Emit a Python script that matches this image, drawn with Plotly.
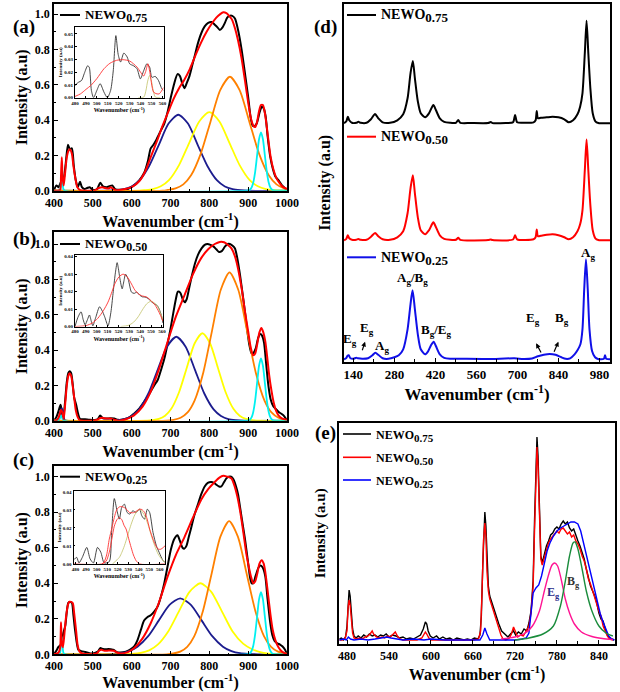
import plotly.graph_objects as go

# ------------------------------------------------------------------ data
# Panel (a) NEWO0.75 : measured spectrum, cumulative fit and fitted components
A_BLACK = [(400, 0.0), (406, 0.03), (412, 0.02), (418, 0.05), (424, 0.06), (430, 0.15), (436, 0.26), (441, 0.235),
           (446, 0.24), (451, 0.14), (456, 0.06), (461, 0.02), (467, 0.05), (472, 0.02), (478, 0.01), (485, 0.015),
           (492, 0.02), (500, 0.005), (511, 0.01), (519, 0.045), (526, 0.025), (535, 0.02), (543, 0.025), (550, 0.03),
           (558, 0.008), (575, 0.005), (590, 0.01), (606, 0.03), (620, 0.06), (632, 0.10), (642, 0.17), (649, 0.24),
           (656, 0.26), (664, 0.29), (675, 0.34), (684, 0.38), (693, 0.45), (701, 0.53), (710, 0.61), (718, 0.66),
           (724, 0.65), (730, 0.61), (736, 0.58), (742, 0.61), (749, 0.65), (756, 0.71), (762, 0.76), (770, 0.83),
           (779, 0.89), (788, 0.93), (797, 0.95), (806, 0.955), (814, 0.94), (821, 0.925), (827, 0.91), (834, 0.925),
           (840, 0.95), (846, 0.98), (852, 0.99), (859, 0.99), (866, 0.975), (874, 0.91), (883, 0.80), (892, 0.66),
           (900, 0.53), (906, 0.42), (911, 0.37), (916, 0.365), (922, 0.38), (929, 0.44), (935, 0.475), (940, 0.465),
           (945, 0.42), (950, 0.31), (957, 0.19), (964, 0.12), (970, 0.08), (978, 0.06), (987, 0.03), (994, 0.015),
           (1000, 0.0)]
A_RED = [(400, 0.0), (410, 0.0), (416, 0.005), (418, 0.08), (420, 0.19), (422, 0.08), (425, 0.03), (429, 0.11),
         (433, 0.19), (437, 0.225), (441, 0.235), (446, 0.21), (450, 0.14), (455, 0.07), (460, 0.02), (466, 0.005),
         (480, 0.0), (505, 0.002), (515, 0.015), (524, 0.02), (532, 0.015), (540, 0.012), (546, 0.02), (551, 0.012),
         (560, 0.003), (580, 0.008), (600, 0.02), (620, 0.055), (635, 0.11), (649, 0.19), (665, 0.28), (680, 0.37),
         (693, 0.44), (708, 0.52), (722, 0.58), (736, 0.63), (750, 0.69), (765, 0.77), (779, 0.84), (793, 0.90),
         (806, 0.945), (818, 0.98), (828, 1.0), (836, 1.01), (844, 1.005), (851, 0.99), (858, 0.97), (866, 0.92),
         (874, 0.85), (883, 0.75), (892, 0.62), (900, 0.50), (907, 0.41), (913, 0.37), (918, 0.36), (923, 0.39),
         (928, 0.45), (933, 0.485), (938, 0.485), (943, 0.44), (948, 0.36), (953, 0.27), (958, 0.19), (965, 0.12),
         (973, 0.07), (982, 0.04), (990, 0.02), (1000, 0.01)]
A_NAVY = [(400, 0), (540, 0), (560, 0.003), (580, 0.009), (600, 0.024), (620, 0.058), (645, 0.14), (670, 0.26),
          (695, 0.38), (720, 0.43), (745, 0.38), (770, 0.26), (795, 0.14), (820, 0.058), (840, 0.024), (860, 0.009),
          (880, 0.003), (900, 0), (1000, 0)]
A_YELLOW = [(400, 0), (620, 0), (634, 0.003), (654, 0.009), (675, 0.025), (696, 0.06), (722, 0.145), (748, 0.27),
            (774, 0.392), (800, 0.445), (826, 0.392), (852, 0.27), (878, 0.145), (904, 0.06), (925, 0.025),
            (946, 0.009), (966, 0.003), (990, 0), (1000, 0)]
A_ORANGE = [(400, 0), (680, 0), (693, 0.004), (713, 0.013), (733, 0.036), (753, 0.087), (778, 0.21), (803, 0.391),
            (828, 0.569), (853, 0.645), (878, 0.569), (903, 0.391), (928, 0.21), (953, 0.087), (973, 0.036),
            (993, 0.013), (1000, 0.009)]
A_CYAN = [(400, 0), (412, 0), (416, 0.01), (418, 0.06), (420, 0.1), (422, 0.06), (424, 0.01), (428, 0), (895, 0),
          (900, 0.0014), (905, 0.0065), (909, 0.0185), (913, 0.0447), (918, 0.107), (923, 0.2), (928, 0.291),
          (933, 0.33), (938, 0.291), (943, 0.2), (948, 0.107), (953, 0.0447), (957, 0.0185), (961, 0.0065),
          (966, 0.0014), (975, 0), (1000, 0)]
A_IN_BLACK = [(480, 0.0096), (483, 0.012), (486, 0.0135), (488.5, 0.019), (491.5, 0.025), (493, 0.024), (495, 0.0057),
              (497, 0.0), (500, 0.0057), (503, 0.011), (506.5, 0.0044), (509.6, 0.0), (512.6, 0.0057), (515, 0.021),
              (517.4, 0.0487), (519.5, 0.034), (521.7, 0.028), (524.7, 0.035), (527.7, 0.032), (530, 0.0266),
              (533.7, 0.025), (536.8, 0.0227), (539.8, 0.0148), (542.8, 0.021), (545.8, 0.0266), (548.3, 0.024),
              (550.4, 0.016), (553.4, 0.0167), (556.4, 0.0135), (559.5, 0.007), (561, 0.0057)]
A_IN_RED = [(480, 0.001), (485, 0.003), (490, 0.0065), (494.5, 0.0096), (500, 0.015), (506.5, 0.0227), (512, 0.027),
            (518, 0.0293), (524, 0.0298), (530, 0.0288), (536.8, 0.024), (540, 0.02), (542.8, 0.017), (544.5, 0.02),
            (546.7, 0.0266), (548.5, 0.02), (551.9, 0.0044), (555, 0.003), (557, 0.003), (559, 0.005), (561, 0.008)]
A_IN_YELLOW = [(538, 0.0), (543, 0.0005), (545, 0.006), (546.5, 0.013), (548.3, 0.0174), (550, 0.013), (551.5, 0.006),
               (553.5, 0.0005), (558, 0.0)]

# Panel (b) NEWO0.50
B_BLACK = [(400, 0), (406, 0.02), (411, 0.05), (417, 0.09), (421, 0.04), (424, 0.02), (429, 0.12), (433, 0.22),
           (437, 0.27), (440, 0.28), (444, 0.27), (448, 0.21), (452, 0.13), (457, 0.09), (462, 0.04), (467, 0.01),
           (480, 0.008), (492, 0.005), (505, 0.004), (513, 0.01), (519, 0.03), (525, 0.015), (535, 0.012),
           (545, 0.014), (555, 0.012), (565, 0.005), (580, 0.008), (595, 0.02), (606, 0.04), (620, 0.07), (633, 0.11),
           (645, 0.15), (658, 0.2), (667, 0.23), (676, 0.29), (684, 0.35), (692, 0.43), (700, 0.52), (708, 0.62),
           (714, 0.69), (719, 0.73), (725, 0.725), (731, 0.69), (737, 0.67), (742, 0.69), (748, 0.75), (755, 0.82),
           (763, 0.89), (771, 0.94), (780, 0.975), (788, 0.995), (795, 1.0), (803, 0.995), (811, 0.985), (818, 0.97),
           (825, 0.955), (832, 0.96), (840, 0.985), (847, 1.0), (853, 1.0), (860, 0.99), (866, 0.975), (872, 0.92),
           (879, 0.825), (888, 0.68), (896, 0.54), (903, 0.43), (909, 0.38), (914, 0.385), (919.5, 0.41), (926, 0.47),
           (931, 0.49), (936, 0.48), (941, 0.44), (946, 0.33), (952, 0.2), (958, 0.12), (965, 0.08), (972, 0.065),
           (978, 0.05), (985, 0.04), (991, 0.03), (996, 0.015), (1000, 0)]
B_RED = [(400, 0), (408, 0.005), (413, 0.025), (418, 0.06), (421, 0.05), (425, 0.01), (429, 0.1), (433, 0.2),
         (437, 0.255), (440, 0.268), (444, 0.255), (448, 0.2), (452, 0.13), (456, 0.06), (461, 0.02), (466, 0.003),
         (490, 0.0), (510, 0.004), (518, 0.014), (524, 0.017), (530, 0.014), (537, 0.012), (546, 0.012), (554, 0.006),
         (565, 0.0), (585, 0.008), (606, 0.03), (628, 0.08), (649, 0.165), (670, 0.29), (693, 0.45), (714, 0.59),
         (736, 0.71), (758, 0.83), (779, 0.92), (797, 0.97), (814, 1.0), (827, 1.012), (838, 1.01), (848, 0.995),
         (857, 0.975), (866, 0.93), (874, 0.86), (883, 0.75), (891, 0.63), (900, 0.505), (907, 0.41), (913, 0.37),
         (918, 0.38), (923, 0.43), (929, 0.5), (934, 0.525), (939, 0.5), (944, 0.45), (949, 0.36), (954, 0.26),
         (960, 0.17), (966, 0.1), (972, 0.055), (978, 0.03), (988, 0.012), (1000, 0.005)]
B_NAVY = [(400, 0), (410, 0), (413, 0.005), (416, 0.045), (420, 0.07), (424, 0.045), (427, 0.005), (432, 0), (545, 0),
          (561, 0.003), (581, 0.009), (600, 0.027), (619, 0.064), (643, 0.154), (667, 0.288), (691, 0.419),
          (715, 0.475), (739, 0.419), (763, 0.288), (787, 0.154), (811, 0.064), (830, 0.027), (849, 0.009),
          (869, 0.003), (890, 0), (1000, 0)]
B_YELLOW = [(400, 0), (640, 0), (654, 0.003), (670, 0.01), (686, 0.028), (702, 0.067), (722, 0.161), (742, 0.30),
            (762, 0.437), (782, 0.495), (802, 0.437), (822, 0.30), (842, 0.161), (862, 0.067), (878, 0.028),
            (894, 0.01), (910, 0.003), (930, 0), (1000, 0)]
B_ORANGE = [(400, 0), (690, 0), (708, 0.005), (726, 0.017), (744, 0.047), (762, 0.114), (784.5, 0.273), (807, 0.51),
            (829.5, 0.741), (852, 0.84), (874.5, 0.741), (897, 0.51), (919.5, 0.273), (942, 0.114), (960, 0.047),
            (978, 0.017), (996, 0.005), (1000, 0.004)]
B_CYAN = [(400, 0), (410, 0), (414, 0.01), (418, 0.03), (422, 0.01), (426, 0), (895, 0), (900, 0.0015), (905, 0.007),
          (909, 0.02), (913, 0.048), (918, 0.115), (923, 0.214), (928, 0.311), (933, 0.353), (938, 0.311),
          (943, 0.214), (948, 0.115), (953, 0.048), (957, 0.02), (961, 0.007), (966, 0.0015), (975, 0), (1000, 0)]
B_IN_BLACK = [(480, 0.0), (482.5, 0.005), (485.6, 0.0084), (487.5, 0.004), (489.3, 0.001), (491.5, 0.004),
              (493.3, 0.0066), (495, 0.003), (496.4, 0.0004), (499, 0.005), (502.6, 0.0113), (505, 0.009),
              (507.3, 0.0056), (510.4, 0.0004), (513, 0.008), (515, 0.0188), (517, 0.03), (518.8, 0.0366),
              (520, 0.033), (521.2, 0.028), (523.4, 0.0216), (525, 0.026), (526.5, 0.03), (529, 0.027), (532, 0.0197),
              (534.5, 0.019), (536.8, 0.0197), (539.9, 0.0178), (542, 0.017), (544.5, 0.0169), (547.5, 0.016),
              (550.7, 0.014), (553, 0.013), (555.4, 0.0122), (557.5, 0.01), (559.4, 0.0066), (561, 0.002)]
B_IN_RED = [(480, 0.0), (490, 0.0005), (496, 0.002), (501, 0.0047), (506, 0.009), (510.4, 0.014), (513.5, 0.019),
            (516.6, 0.0244), (520.5, 0.0285), (524.3, 0.030), (528, 0.0285), (532, 0.0244), (535, 0.021),
            (538.2, 0.0188), (542, 0.0175), (546, 0.0169), (550, 0.0148), (553.8, 0.0122), (557.5, 0.008),
            (561, 0.003)]
B_IN_YELLOW = [(522, 0.0), (529, 0.0006), (534, 0.0025), (538.2, 0.0056), (542, 0.0095), (546, 0.013), (550, 0.0145),
               (553, 0.0135), (555.4, 0.0122), (558.5, 0.008), (561, 0.004)]

# Panel (c) NEWO0.25
C_BLACK = [(400, 0), (406, 0.02), (411, 0.04), (416, 0.05), (420, 0.07), (424, 0.12), (429, 0.16), (433, 0.24),
           (437, 0.29), (441, 0.295), (446, 0.29), (450, 0.22), (454, 0.14), (459, 0.06), (463, 0.025), (470, 0.018),
           (476, 0.015), (485, 0.01), (494, 0.005), (505, 0.008), (513, 0.015), (519, 0.035), (526, 0.03),
           (533, 0.028), (540, 0.03), (547, 0.028), (554, 0.025), (562, 0.012), (571, 0.01), (585, 0.015),
           (595, 0.025), (606, 0.043), (615, 0.08), (624, 0.14), (632, 0.19), (641, 0.21), (649, 0.22), (658, 0.24),
           (667, 0.27), (676, 0.33), (684, 0.40), (692, 0.49), (701, 0.59), (710, 0.65), (718, 0.67), (724, 0.64),
           (731, 0.6), (736, 0.595), (741, 0.61), (747, 0.66), (753, 0.71), (761, 0.78), (770, 0.84), (779, 0.9),
           (788, 0.945), (796, 0.965), (805, 0.97), (812, 0.965), (818, 0.955), (825, 0.945), (831, 0.945),
           (838, 0.97), (844, 0.99), (850, 1.0), (856, 1.0), (862, 0.985), (868, 0.95), (874, 0.9), (879, 0.83),
           (886, 0.73), (892, 0.645), (899, 0.53), (905, 0.43), (909, 0.4), (913, 0.4), (919, 0.44), (926, 0.485),
           (931, 0.5), (937, 0.49), (944, 0.44), (950, 0.31), (957, 0.175), (962, 0.11), (968, 0.075), (975, 0.062),
           (982, 0.055), (988, 0.045), (995, 0.025), (1000, 0)]
C_RED = [(400, 0), (412, 0.01), (416, 0.04), (418, 0.18), (420, 0.07), (423, 0.04), (427, 0.12), (431, 0.21),
         (436, 0.28), (440, 0.296), (444, 0.295), (448.5, 0.287), (452, 0.23), (457, 0.13), (461, 0.05), (466, 0.015),
         (475, 0.003), (490, 0.0), (510, 0.005), (516, 0.02), (522, 0.025), (530, 0.02), (537, 0.02), (545, 0.022),
         (554, 0.02), (562, 0.01), (571, 0.005), (590, 0.012), (606, 0.034), (628, 0.09), (649, 0.175), (670, 0.29),
         (693, 0.44), (714, 0.56), (736, 0.66), (758, 0.77), (779, 0.87), (797, 0.93), (814, 0.97), (826, 0.995),
         (836, 1.005), (846, 1.0), (857, 0.99), (866, 0.94), (872, 0.89), (879, 0.81), (888, 0.68), (895, 0.57),
         (900, 0.51), (907, 0.44), (913, 0.40), (918, 0.41), (923, 0.45), (929, 0.51), (935, 0.53), (940, 0.51),
         (944, 0.465), (950, 0.36), (957, 0.23), (963, 0.14), (970, 0.08), (978, 0.04), (987, 0.015), (1000, 0)]
C_NAVY = [(400, 0), (530, 0), (549, 0.002), (571, 0.006), (593, 0.018), (615, 0.043), (642.5, 0.102), (670, 0.191),
          (697.5, 0.278), (725, 0.315), (752.5, 0.278), (780, 0.191), (807.5, 0.102), (835, 0.043), (857, 0.018),
          (879, 0.006), (901, 0.002), (925, 0), (1000, 0)]
C_YELLOW = [(400, 0), (582, 0), (601, 0.002), (623, 0.008), (645, 0.022), (667, 0.054), (694.5, 0.13), (722, 0.243),
            (749.5, 0.353), (777, 0.40), (804.5, 0.353), (832, 0.243), (859.5, 0.13), (887, 0.06), (909, 0.03),
            (931, 0.012), (953, 0.004), (975, 0), (1000, 0)]
C_ORANGE = [(400, 0), (690, 0), (707, 0.0045), (725, 0.015), (743, 0.042), (761, 0.101), (783.5, 0.244), (806, 0.455),
            (828.5, 0.662), (851, 0.75), (873.5, 0.662), (896, 0.455), (918.5, 0.244), (941, 0.101), (959, 0.042),
            (977, 0.015), (995, 0.0045), (1000, 0.003)]
C_CYAN = [(400, 0), (412, 0), (416, 0.01), (418, 0.06), (420, 0.1), (422, 0.06), (424, 0.01), (428, 0), (895, 0),
          (900, 0.0015), (905, 0.007), (909, 0.02), (913, 0.047), (918, 0.114), (923, 0.212), (928, 0.309),
          (933, 0.35), (938, 0.309), (943, 0.212), (948, 0.114), (953, 0.047), (957, 0.02), (961, 0.007),
          (966, 0.0015), (975, 0), (1000, 0)]
C_IN_BLACK = [(478.4, 0.0024), (481, 0.0037), (483.2, 0.0006), (486.4, 0.0037), (490.6, 0.0092), (493.8, 0.0028),
              (497, 0.0006), (500.8, 0.0092), (504, 0.0065), (507.2, 0.0006), (512, 0.0013), (514.2, 0.0175),
              (516.8, 0.0363), (519.4, 0.0295), (521.6, 0.0249), (523.8, 0.0313), (526.4, 0.0332), (529, 0.0286),
              (531.5, 0.0277), (534.4, 0.0295), (537.6, 0.0286), (540.8, 0.0304), (543, 0.0267), (545.6, 0.0249),
              (548.2, 0.0304), (550.4, 0.0286), (553.6, 0.0175), (556.8, 0.0101), (559.4, 0.0065), (563.2, 0.0018),
              (565, 0.001)]
C_IN_RED = [(478, 0.0), (505, 0.0), (507, 0.001), (509.5, 0.005), (512, 0.0138), (514.5, 0.02), (516.8, 0.0258),
            (519, 0.03), (521.6, 0.0317), (524, 0.0318), (526.4, 0.0313), (529, 0.03), (531.2, 0.0286), (534, 0.0284),
            (536, 0.0286), (538.5, 0.0296), (540.8, 0.0304), (543, 0.0302), (545.6, 0.0286), (548, 0.025),
            (550.4, 0.0194), (553.6, 0.0138), (556, 0.0105), (558.4, 0.0083), (561, 0.0082), (563, 0.009),
            (565, 0.0101)]
C_IN_REDCOMP = [(505, 0.0), (509, 0.0015), (512, 0.0065), (514.5, 0.014), (516.8, 0.021), (519.2, 0.0245),
                (521.6, 0.0258), (524, 0.0245), (526, 0.0215), (528, 0.0194), (530.5, 0.014), (532.8, 0.0092),
                (535, 0.005), (537.6, 0.0018), (541, 0.0), (565, 0.0)]
C_IN_YELLOW = [(515, 0.0), (521.6, 0.0037), (524, 0.0065), (526.4, 0.0101), (529.5, 0.0158), (532.8, 0.022),
               (536.5, 0.0275), (540.8, 0.0304), (545, 0.0275), (548.8, 0.022), (552, 0.0158), (555.2, 0.0101),
               (558.5, 0.0055), (561.6, 0.0028), (565, 0.001)]

# Panel (d) full-range spectra (normalised; stacked with offsets)
D_OFFSETS = {"0.75": 2.36, "0.50": 1.19, "0.25": 0.0}
D_075 = [(108, 0.0), (116, 0.02), (121, 0.066), (126, 0.03), (135, 0.005), (150, 0.005), (157, 0.015), (165, 0.005),
         (185, 0.005), (200, 0.04), (214, 0.093), (225, 0.05), (240, 0.01), (265, 0.005), (290, 0.03), (310, 0.09),
         (325, 0.25), (335, 0.5), (343, 0.623), (350, 0.45), (360, 0.22), (370, 0.1), (385, 0.06), (398, 0.1),
         (413, 0.183), (422, 0.13), (435, 0.05), (450, 0.015), (470, 0.005), (490, 0.005), (498, 0.033), (505, 0.005),
         (540, 0.003), (600, 0.003), (609, 0.012), (615, 0.002), (660, 0.003), (685, 0.01), (692, 0.083), (699, 0.01),
         (720, 0.005), (755, 0.01), (762, 0.03), (766, 0.123), (770, 0.05), (780, 0.055), (800, 0.06), (820, 0.065),
         (840, 0.06), (860, 0.04), (875, 0.01), (890, 0.03), (905, 0.09), (914, 0.166), (922, 0.3), (930, 0.7),
         (936, 1.026), (942, 0.7), (949, 0.35), (957, 0.1), (966, 0.02), (976, 0.003), (1016, 0)]
D_050 = [(108, 0.0), (116, 0.015), (121, 0.05), (126, 0.02), (135, 0.005), (150, 0.005), (157, 0.012), (165, 0.005),
         (185, 0.005), (200, 0.035), (214, 0.074), (225, 0.04), (240, 0.01), (265, 0.005), (290, 0.03), (310, 0.09),
         (325, 0.27), (335, 0.52), (343, 0.65), (350, 0.47), (360, 0.23), (370, 0.1), (385, 0.06), (398, 0.1),
         (413, 0.18), (422, 0.13), (435, 0.05), (450, 0.015), (470, 0.005), (490, 0.005), (498, 0.025), (505, 0.005),
         (600, 0.003), (609, 0.008), (615, 0.002), (685, 0.008), (692, 0.05), (699, 0.01), (755, 0.01), (762, 0.03),
         (766, 0.107), (770, 0.04), (780, 0.045), (800, 0.055), (820, 0.06), (840, 0.05), (860, 0.03), (875, 0.01),
         (890, 0.03), (905, 0.09), (914, 0.16), (922, 0.3), (930, 0.7), (936, 1.007), (942, 0.7), (949, 0.35),
         (957, 0.1), (966, 0.02), (976, 0.003), (1016, 0)]
D_025 = [(108, 0.0), (115, 0.01), (120, 0.035), (124, 0.04), (130, 0.01), (140, 0.005), (150, 0.015), (156, 0.01),
         (170, 0.005), (190, 0.01), (205, 0.04), (215, 0.066), (225, 0.045), (240, 0.01), (260, 0.005), (280, 0.02),
         (295, 0.04), (310, 0.1), (325, 0.3), (335, 0.55), (342, 0.69), (350, 0.5), (360, 0.25), (370, 0.1),
         (385, 0.05), (395, 0.08), (405, 0.14), (414, 0.176), (422, 0.13), (435, 0.05), (450, 0.015), (470, 0.005),
         (500, 0.005), (600, 0.003), (690, 0.01), (720, 0.003), (750, 0.008), (770, 0.03), (790, 0.045),
         (810, 0.053), (830, 0.045), (850, 0.02), (865, 0.005), (880, 0.01), (895, 0.05), (905, 0.09), (915, 0.15),
         (922, 0.3), (928, 0.7), (934, 1.0), (940, 0.7), (946, 0.3), (955, 0.08), (965, 0.02), (975, 0.003),
         (995, 0.005), (999, 0.04), (1003, 0.005), (1016, 0)]

# Panel (e) zoomed spectra 470-860 cm-1 with Eg / Bg components
E_075 = [(469, 0.02), (472, 0.03), (475, 0.01), (478, 0.04), (480, 0.15), (481.5, 0.42), (483, 0.51), (484.5, 0.45),
         (486, 0.3), (488, 0.12), (490, 0.05), (493, 0.03), (496, 0.05), (500, 0.03), (504, 0.06), (508, 0.04),
         (512, 0.07), (516, 0.05), (520, 0.06), (524, 0.04), (528, 0.06), (532, 0.05), (536, 0.07), (540, 0.04),
         (545, 0.06), (550, 0.05), (555, 0.03), (560, 0.04), (565, 0.02), (570, 0.03), (575, 0.02), (580, 0.04),
         (585, 0.06), (589, 0.12), (592, 0.19), (594, 0.17), (596, 0.1), (599, 0.05), (603, 0.03), (608, 0.05),
         (612, 0.02), (617, 0.04), (622, 0.02), (627, 0.03), (632, 0.01), (637, 0.03), (642, 0.02), (647, 0.01),
         (652, 0.02), (657, 0.01), (662, 0.03), (667, 0.02), (670, 0.06), (672, 0.25), (674, 0.75), (676, 1.2),
         (677, 1.29), (678.5, 1.15), (680, 0.8), (682, 0.55), (684, 0.45), (687, 0.38), (690, 0.32), (693, 0.25),
         (697, 0.17), (701, 0.1), (705, 0.07), (710, 0.04), (715, 0.08), (718, 0.1), (721, 0.06), (725, 0.09),
         (729, 0.07), (733, 0.12), (737, 0.1), (740, 0.18), (743, 0.3), (746, 0.6), (748, 1.2), (750, 1.85),
         (751.5, 2.04), (753, 1.85), (755, 1.2), (757, 0.85), (759, 0.78), (762, 0.86), (765, 0.95), (768, 1.0),
         (771, 1.06), (774, 1.08), (777, 1.12), (780, 1.14), (783, 1.12), (786, 1.17), (789, 1.2), (792, 1.17),
         (795, 1.19), (798, 1.13), (801, 1.1), (804, 1.12), (807, 1.05), (810, 1.0), (813, 0.95), (816, 0.88),
         (819, 0.82), (822, 0.72), (825, 0.62), (828, 0.55), (831, 0.5), (834, 0.45), (837, 0.38), (840, 0.28),
         (843, 0.22), (846, 0.2), (849, 0.12), (852, 0.06), (855, 0.03), (858, 0.02), (862, 0.01)]
E_050 = [(469, 0.01), (473, 0.01), (477, 0.02), (480, 0.1), (481.5, 0.33), (483, 0.41), (484.5, 0.36), (486, 0.22),
         (488, 0.08), (490, 0.03), (494, 0.02), (498, 0.03), (502, 0.02), (506, 0.04), (510, 0.05), (513, 0.07),
         (516, 0.1), (518, 0.07), (522, 0.04), (526, 0.03), (530, 0.04), (534, 0.03), (538, 0.05), (542, 0.04),
         (546, 0.07), (549, 0.09), (552, 0.05), (556, 0.02), (560, 0.01), (570, 0.01), (580, 0.01), (587, 0.03),
         (590, 0.07), (592, 0.09), (594, 0.07), (597, 0.03), (600, 0.01), (660, 0.01), (668, 0.02), (671, 0.1),
         (673, 0.5), (675, 1.0), (677, 1.18), (678.5, 1.05), (680, 0.7), (682, 0.5), (684, 0.42), (687, 0.35),
         (690, 0.28), (693, 0.22), (697, 0.13), (700, 0.06), (703, 0.02), (707, 0.01), (712, 0.03), (715, 0.07),
         (718, 0.14), (721, 0.08), (724, 0.04), (728, 0.06), (732, 0.05), (736, 0.1), (740, 0.15), (743, 0.28),
         (746, 0.55), (748, 1.1), (750, 1.75), (751.5, 1.94), (753, 1.75), (755, 1.15), (757, 0.82), (759, 0.76),
         (762, 0.83), (765, 0.92), (768, 0.98), (771, 1.02), (774, 1.05), (777, 1.08), (780, 1.1), (783, 1.08),
         (786, 1.12), (789, 1.13), (792, 1.1), (795, 1.07), (798, 1.09), (801, 1.04), (804, 1.06), (807, 1.0),
         (810, 0.97), (813, 0.92), (816, 0.85), (819, 0.8), (822, 0.72), (825, 0.62), (828, 0.57), (831, 0.5),
         (834, 0.44), (837, 0.36), (840, 0.3), (843, 0.25), (846, 0.15), (849, 0.1), (852, 0.05), (855, 0.02),
         (860, 0.01)]
E_025 = [(469, 0.01), (475, 0.02), (479, 0.01), (482, 0.04), (485, 0.02), (490, 0.01), (500, 0.02), (510, 0.01),
         (520, 0.02), (530, 0.03), (537, 0.04), (543, 0.03), (550, 0.02), (560, 0.01), (575, 0.02), (590, 0.01),
         (600, 0.02), (620, 0.01), (640, 0.01), (660, 0.005), (670, 0.01), (674, 0.06), (677, 0.13), (680, 0.07),
         (684, 0.01), (700, 0.01), (720, 0.01), (730, 0.02), (736, 0.03), (740, 0.08), (743, 0.3), (746, 0.48),
         (750, 0.53), (754, 0.56), (758, 0.65), (762, 0.78), (766, 0.9), (770, 0.98), (775, 1.05), (780, 1.1),
         (785, 1.13), (790, 1.15), (795, 1.17), (800, 1.19), (805, 1.19), (810, 1.17), (814, 1.1), (818, 0.98),
         (822, 0.85), (826, 0.72), (830, 0.6), (834, 0.48), (838, 0.37), (842, 0.27), (846, 0.19), (850, 0.11),
         (854, 0.05), (858, 0.02), (862, 0.01)]
E_EG = [(700, 0.02), (720, 0.04), (735, 0.08), (745, 0.15), (755, 0.3), (762, 0.5), (768, 0.66), (773, 0.76),
        (777, 0.78), (781, 0.75), (786, 0.62), (792, 0.42), (798, 0.28), (805, 0.17), (815, 0.09), (830, 0.045),
        (845, 0.025), (860, 0.015)]
E_BG = [(720, 0.01), (740, 0.03), (760, 0.07), (775, 0.15), (785, 0.35), (792, 0.6), (798, 0.85), (803, 0.98),
        (806, 0.99), (810, 0.92), (816, 0.72), (822, 0.5), (830, 0.3), (840, 0.15), (850, 0.08), (860, 0.05)]

SAMPLES = ["0.75", "0.50", "0.25"]

# ------------------------------------------------------------------ styling
W, H = 620, 692
FONT = "Liberation Serif"
NAVY, YEL, ORA, CYA = "#1c1c8e", "#ffff00", "#ff8000", "#00f0f0"


def dx(a, b):
    return [a / W, b / W]


def dy(top, bottom):
    return [1 - bottom / H, 1 - top / H]


fig = go.Figure()


def add(data, color, width, ax, shape="spline", offset=0.0):
    xs = [p[0] for p in data]
    ys = [p[1] + offset for p in data]
    fig.add_trace(go.Scatter(
        x=xs, y=ys, mode="lines", xaxis="x" + ax, yaxis="y" + ax,
        line=dict(color=color, width=width, shape=shape, smoothing=0.7),
        showlegend=False, hoverinfo="skip"))


for ax, black, red, navy, yel, ora, cya in [
        ("", A_BLACK, A_RED, A_NAVY, A_YELLOW, A_ORANGE, A_CYAN),
        ("3", B_BLACK, B_RED, B_NAVY, B_YELLOW, B_ORANGE, B_CYAN),
        ("5", C_BLACK, C_RED, C_NAVY, C_YELLOW, C_ORANGE, C_CYAN)]:
    add(black, "black", 2.0, ax)
    add(navy, NAVY, 1.8, ax)
    add(yel, YEL, 1.8, ax)
    add(ora, ORA, 1.8, ax)
    add(cya, CYA, 1.8, ax)
    add(red, "#ff0000", 2.0, ax)

add(A_IN_BLACK, "#333333", 0.9, "2")
add(A_IN_YELLOW, "#c8c878", 0.9, "2")
add(A_IN_RED, "#ff3030", 0.9, "2")
add(B_IN_BLACK, "#333333", 0.9, "4")
add(B_IN_YELLOW, "#c8c878", 0.9, "4")
add(B_IN_RED, "#ff3030", 0.9, "4")
add(C_IN_BLACK, "#333333", 0.9, "6")
add(C_IN_YELLOW, "#c8c878", 0.9, "6")
add(C_IN_REDCOMP, "#ff3030", 0.9, "6")
add(C_IN_RED, "#ff3030", 0.9, "6")

add(D_075, "black", 2.0, "7", offset=D_OFFSETS["0.75"])
add(D_050, "#ff0000", 2.0, "7", offset=D_OFFSETS["0.50"])
add(D_025, "#1010e8", 2.0, "7", offset=D_OFFSETS["0.25"])

add(E_075, "black", 1.4, "8", shape="linear")
add(E_050, "#ff0000", 1.4, "8", shape="linear")
add(E_025, "#0000ff", 1.4, "8", shape="linear")
add(E_EG, "#ff1493", 1.4, "8")
add(E_BG, "#1a8c3c", 1.4, "8")


def tf(size):
    return dict(family=FONT, size=size, color="black", weight="bold")


def axis(dom, rng, **kw):
    d = dict(domain=dom, range=rng, showline=True, linecolor="black", linewidth=1.5, mirror=True,
             ticks="inside", ticklen=4, tickwidth=1.2, tickcolor="black", showgrid=False, zeroline=False,
             tickfont=tf(12), automargin=False)
    d.update(kw)
    return d


XT = "Wavenumber (cm<sup>-1</sup>)"
YT = "Intensity (a.u)"


def main_x(dom, anchor):
    return axis(dom, [400, 1000], anchor=anchor, tickmode="linear", tick0=400, dtick=100,
                minor=dict(ticks="inside", ticklen=2, dtick=50, tickcolor="black"),
                title=dict(text=XT, font=tf(16), standoff=0))


def main_y(dom, top, anchor):
    return axis(dom, [0, top], anchor=anchor, tickmode="linear", tick0=0, dtick=0.2, tickformat=".1f",
                minor=dict(ticks="inside", ticklen=2, dtick=0.1, tickcolor="black"),
                title=dict(text=YT, font=tf(16), standoff=3))


def inset_x(dom, rng, anchor):
    return axis(dom, rng, anchor=anchor, linewidth=0.8, ticklen=2, tickwidth=0.6, tickfont=tf(5),
                tickmode="linear", tick0=480, dtick=10, title=dict(text=XT, font=tf(6), standoff=0))


def inset_y(dom, top, anchor):
    return axis(dom, [0, top], anchor=anchor, linewidth=0.8, ticklen=2, tickwidth=0.6, tickfont=tf(5),
                tickmode="linear", tick0=0, dtick=0.01, tickformat=".2f",
                title=dict(text=YT, font=tf(5), standoff=1))


layout = dict(
    width=W, height=H, margin=dict(l=0, r=0, t=0, b=0, pad=0, autoexpand=False),
    paper_bgcolor="white", plot_bgcolor="white", showlegend=False,
    xaxis=main_x(dx(54, 287), "y"), yaxis=main_y(dy(4, 190.7), 1.057, "x"),
    xaxis2=inset_x(dx(75, 163.5), [480, 561], "y2"), yaxis2=inset_y(dy(26.7, 97.7), 0.0557, "x2"),
    xaxis3=main_x(dx(54, 287), "y3"), yaxis3=main_y(dy(232, 420.7), 1.068, "x3"),
    xaxis4=inset_x(dx(75, 163), [480, 561], "y4"), yaxis4=inset_y(dy(255, 326.5), 0.041, "x4"),
    xaxis5=main_x(dx(54, 287), "y5"), yaxis5=main_y(dy(466, 654.3), 1.06, "x5"),
    xaxis6=inset_x(dx(73.5, 165), [478, 565], "y6"), yaxis6=inset_y(dy(491, 564), 0.0405, "x6"),
    xaxis7=axis(dx(344, 610), [108, 1016], anchor="y7", tickmode="linear", tick0=0, dtick=140,
                minor=dict(ticks="inside", ticklen=3, dtick=70, tickcolor="black"), tickfont=tf(13),
                title=dict(text=XT, font=tf(17), standoff=2)),
    yaxis7=axis(dy(4, 361.7), [-0.024, 3.553], anchor="x7", showticklabels=False, ticks="",
                title=dict(text=YT, font=tf(16), standoff=8)),
    xaxis8=axis(dx(339.3, 615), [469, 863], anchor="y8", tickmode="linear", tick0=0, dtick=60,
                minor=dict(ticks="inside", ticklen=3, dtick=30, tickcolor="black"), tickfont=tf(12),
                title=dict(text=XT, font=tf(16), standoff=2)),
    yaxis8=axis(dy(422.7, 644), [-0.03, 2.183], anchor="x8", showticklabels=False, ticks="",
                title=dict(text=YT, font=tf(15), standoff=8)),
)
fig.update_layout(**layout)


def sub_label(s, size):
    return "NEWO<sub><span style=\"font-size:%dpx\">%s</span></sub>" % (size, s)


ann = []
shapes = []


def legend_item(x0, x1, y, color, text, size, width=2.0):
    shapes.append(dict(type="line", xref="paper", yref="paper", x0=x0 / W, x1=x1 / W, y0=1 - y / H, y1=1 - y / H,
                       line=dict(color=color, width=width)))
    ann.append(dict(xref="paper", yref="paper", x=(x1 + 3) / W, y=1 - (y + 1.5) / H, xanchor="left",
                    yanchor="middle", showarrow=False, text=text, font=tf(size)))


legend_item(60, 80, 15, "black", sub_label(SAMPLES[0], 12), 13)
legend_item(60, 80, 244, "black", sub_label(SAMPLES[1], 12), 13)
legend_item(60, 80, 476.7, "black", sub_label(SAMPLES[2], 12), 13)
legend_item(347, 376, 15, "black", sub_label(SAMPLES[0], 13), 14)
legend_item(347, 376, 136.7, "#ff0000", sub_label(SAMPLES[1], 13), 14)
legend_item(347, 376, 257.3, "#1010e8", sub_label(SAMPLES[2], 13), 14)
legend_item(343, 371, 434, "black", sub_label(SAMPLES[0], 11), 12, 1.6)
legend_item(343, 371, 457.3, "#ff0000", sub_label(SAMPLES[1], 11), 12, 1.6)
legend_item(343, 371, 480, "#0000ff", sub_label(SAMPLES[2], 11), 12, 1.6)

for lab, x, y in [("(a)", 12, 15), ("(b)", 12, 239), ("(c)", 12, 472), ("(d)", 325, 15), ("(e)", 325, 433)]:
    ann.append(dict(xref="paper", yref="paper", x=x / W, y=1 - y / H, showarrow=False, text=lab, font=tf(19),
                    borderpad=0))

# mode assignments in panel (d)
for txt, x, y in [("E<sub>g</sub>", 128.7, 0.20), ("E<sub>g</sub>", 185.7, 0.31), ("A<sub>g</sub>", 237, 0.126),
                  ("A<sub>g</sub>/B<sub>g</sub>", 342.8, 0.81), ("B<sub>g</sub>/E<sub>g</sub>", 424.7, 0.293),
                  ("E<sub>g</sub>", 752.5, 0.41), ("B<sub>g</sub>", 851.5, 0.41), ("A<sub>g</sub>", 942.3, 1.06)]:
    ann.append(dict(xref="x7", yref="y7", x=x, y=y, showarrow=False, text=txt, font=tf(13)))
for x, y, axp, ayp in [(180, 0.176, -3.3, 10), (763.8, 0.16, 5.7, 10.7), (840, 0.176, -5, 11.6)]:
    ann.append(dict(xref="x7", yref="y7", x=x, y=y, ax=axp, ay=ayp, text="", showarrow=True,
                    arrowhead=2, arrowsize=0.8, arrowwidth=1.2, arrowcolor="black"))

ann.append(dict(xref="x8", yref="y8", x=775, y=0.477, showarrow=False, text="E<sub>g</sub>",
                font=dict(family=FONT, size=12, color="#2b2b8a", weight="bold")))
ann.append(dict(xref="x8", yref="y8", x=803.3, y=0.593, showarrow=False, text="B<sub>g</sub>",
                font=dict(family=FONT, size=12, color="#333333", weight="bold")))

fig.update_layout(annotations=ann, shapes=shapes)
fig.write_html("out.html")
